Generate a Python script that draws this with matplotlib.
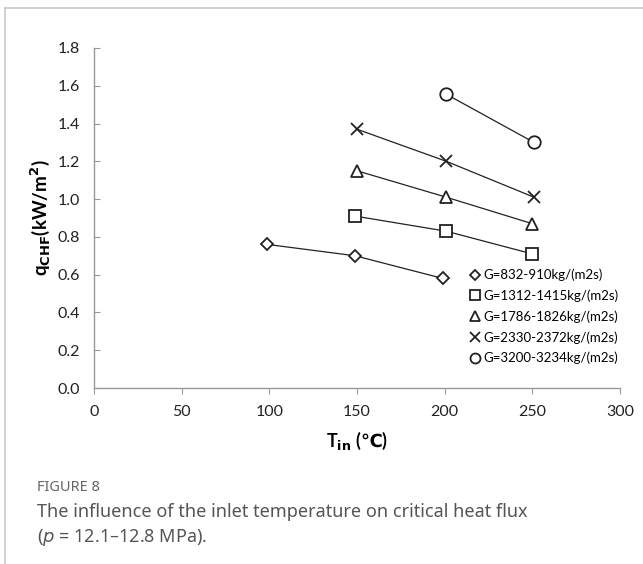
import matplotlib.pyplot as plt
from matplotlib.lines import Line2D

# data
labels = ['G=832-910kg/(m2s)', 'G=1312-1415kg/(m2s)', 'G=1786-1826kg/(m2s)',
          'G=2330-2372kg/(m2s)', 'G=3200-3234kg/(m2s)']
markers = ['D', 's', '^', 'x', 'o']
t_832 = [99, 149, 199]
q_832 = [0.76, 0.70, 0.58]
t_1312 = [149, 201, 250]
q_1312 = [0.91, 0.83, 0.71]
t_1786 = [150, 201, 250]
q_1786 = [1.15, 1.01, 0.87]
t_2330 = [150, 201, 251]
q_2330 = [1.37, 1.20, 1.01]
t_3200 = [201, 251]
q_3200 = [1.555, 1.30]

series_t = [t_832, t_1312, t_1786, t_2330, t_3200]
series_q = [q_832, q_1312, q_1786, q_2330, q_3200]
msizes = [6.5, 9, 9, 9, 9]

fig = plt.figure(figsize=(6.43, 5.64), dpi=100)
ax = fig.add_axes([0.146, 0.312, 0.818, 0.603])

for t, q, m, ms in zip(series_t, series_q, markers, msizes):
    ax.plot(t, q, color='#222222', lw=0.9, zorder=1)
    ax.plot(t, q, ls='none', marker=m, ms=ms, mfc='white', mec='#222222',
            mew=1.3, zorder=2)

ax.set_xlim(0, 300)
ax.set_ylim(0, 1.8)
ax.set_xticks(range(0, 301, 50))
ax.set_yticks([i / 10 for i in range(0, 19, 2)])
ax.set_yticklabels([f'{i / 10:.1f}' for i in range(0, 19, 2)])
for s in ['top', 'right']:
    ax.spines[s].set_visible(False)
for s in ['left', 'bottom']:
    ax.spines[s].set_color('#999999')
    ax.spines[s].set_linewidth(1.0)
ax.tick_params(axis='x', direction='out', length=4, color='#999999', pad=8,
               labelsize=11.5, labelcolor='#222222')
ax.tick_params(axis='y', direction='in', length=4, color='#999999', pad=10,
               labelsize=11.5, labelcolor='#222222')
for lab in ax.get_xticklabels() + ax.get_yticklabels():
    lab.set_fontfamily('Lato')

# the ℃ sign is not in Lato, so it goes through mathtext (DejaVu Sans Bold)
ax.set_xlabel(r'T$_{\mathbf{in}}$ ($\mathbf{℃}$)', fontsize=13, fontweight='bold',
              family='Lato', labelpad=8)
ax.set_ylabel(r'q$_{\mathbf{CHF}}$(kW/m$^{\mathbf{2}}$)', fontsize=13.5, fontweight='bold',
              family='Lato', labelpad=3)

handles = [Line2D([0], [0], ls='none', marker=m, ms=ms * 0.8, mfc='white',
                  mec='#222222', mew=1.3) for m, ms in zip(markers, msizes)]
ax.legend(handles, labels, loc='lower right', bbox_to_anchor=(1.02, 0.035),
          frameon=False, handlelength=0.6, handletextpad=0.3, labelspacing=0.62,
          prop={'family': 'Lato', 'size': 9.5})

# figure frame and caption
fig.add_artist(Line2D([0.007, 0.007], [0, 0.986], color='#c8c8c8', lw=1.2))
fig.add_artist(Line2D([0.007, 1.0], [0.986, 0.986], color='#c8c8c8', lw=1.2))
fig.text(0.058, 0.136, 'FIGURE 8', fontsize=10.5, color='#666666',
         family='Noto Sans', va='center')
fig.text(0.058, 0.092, 'The influence of the inlet temperature on critical heat flux',
         fontsize=13, color='#555555', family='Noto Sans', fontweight='light',
         va='center')
fig.text(0.058, 0.047, r'($\it{p}$ = 12.1–12.8 MPa).', fontsize=13, color='#555555',
         family='Noto Sans', fontweight='light', va='center')

fig.savefig('out.png', dpi=100)
